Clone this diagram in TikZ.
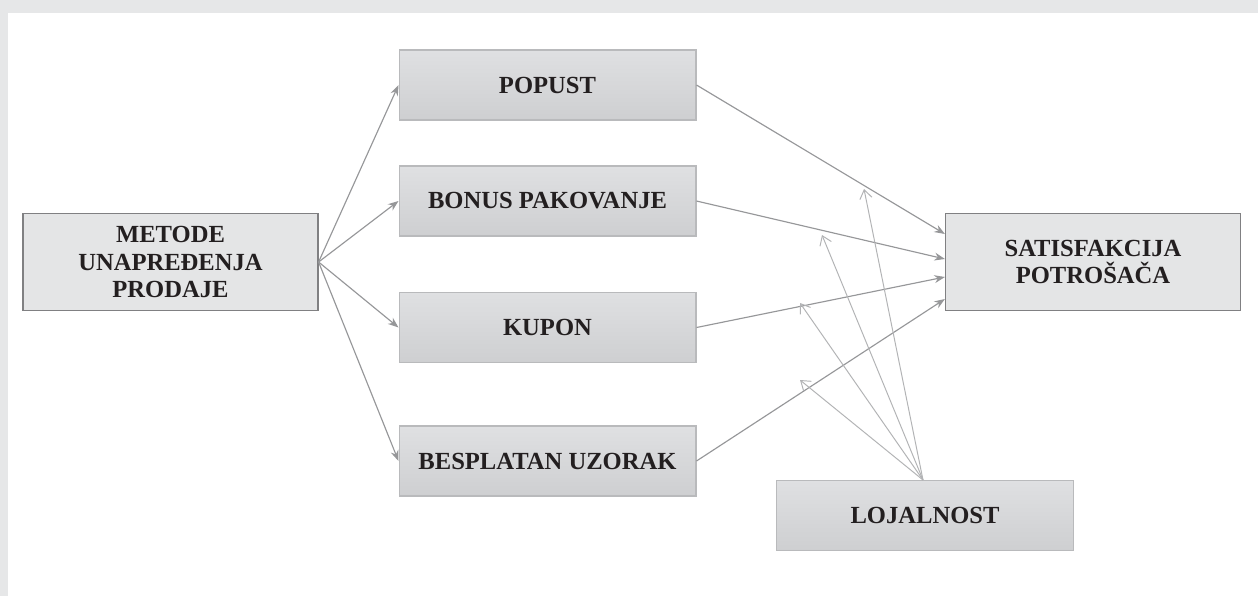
\documentclass[tikz,border=0pt]{standalone}
\usepackage{fontspec}
\setmainfont{Liberation Serif}
\usetikzlibrary{arrows.meta}

\definecolor{pagegray}{RGB}{230,231,232}
\definecolor{boxtop}{RGB}{223,224,226}
\definecolor{boxbot}{RGB}{206,207,209}
\definecolor{boxline}{RGB}{185,186,188}
\definecolor{flatfill}{RGB}{228,229,230}
\definecolor{flatline}{RGB}{128,128,130}
\definecolor{linkgray}{RGB}{150,151,153}
\definecolor{loyalgray}{RGB}{178,179,181}
\definecolor{textdark}{RGB}{35,31,32}

\tikzset{
  gradbox/.style={draw=boxline, line width=0.6pt, top color=boxtop, bottom color=boxbot,
    minimum width=5.94cm, minimum height=1.4cm, inner sep=0pt,
    font=\fontsize{14}{15.6}\selectfont\bfseries, text=textdark, align=center},
  flatbox/.style={draw=flatline, line width=0.7pt, fill=flatfill,
    minimum width=5.9cm, minimum height=1.93cm, inner sep=0pt,
    font=\fontsize{14}{15.6}\selectfont\bfseries, text=textdark, align=center},
  link/.style={draw=linkgray, line width=0.65pt, -{Stealth[length=6pt,width=4.5pt]}},
  loyal/.style={draw=loyalgray, line width=0.55pt, -{Straight Barb[length=5pt,width=7pt]}}
}

\begin{document}
\begin{tikzpicture}[x=0.02cm, y=-0.02cm]
    % Page background
    \fill[pagegray] (0,0) rectangle (1258,596);
    \fill[white] (8,13) rectangle (1258,596);

    % Boxes
    \node[flatbox] (metode) at (170.5,262) {METODE\\UNAPREĐENJA\\PRODAJE};
    \node[gradbox] (popust) at (547.5,85) {POPUST};
    \node[gradbox] (bonus) at (547.5,201) {BONUS PAKOVANJE};
    \node[gradbox] (kupon) at (547.5,327.5) {KUPON};
    \node[gradbox] (uzorak) at (547.5,461) {BESPLATAN UZORAK};
    \node[flatbox] (satisf) at (1093,262) {SATISFAKCIJA\\POTROŠAČA};
    \node[gradbox] (lojal) at (925,515.5) {LOJALNOST};

    % Methods
    \draw[link] (metode.east) -- (popust.west);
    \draw[link] (metode.east) -- (bonus.west);
    \draw[link] (metode.east) -- (kupon.west);
    \draw[link] (metode.east) -- (uzorak.west);

    % Towards satisfaction
    \draw[link] (popust.east) -- ([yshift=28*0.02cm]satisf.west);
    \draw[link] (bonus.east) -- ([yshift=3*0.02cm]satisf.west);
    \draw[link] (kupon.east) -- ([yshift=-15*0.02cm]satisf.west);
    \draw[link] (uzorak.east) -- ([yshift=-37*0.02cm]satisf.west);

    % Loyalty as moderator
    \coordinate (m1) at (864,189);
    \coordinate (m2) at (822,235);
    \coordinate (m3) at (800,303);
    \coordinate (m4) at (800,380);
    \foreach \m in {m1,m2,m3,m4}
        \draw[loyal] ([xshift=-2*0.02cm]lojal.north) -- (\m);
\end{tikzpicture}
\end{document}
